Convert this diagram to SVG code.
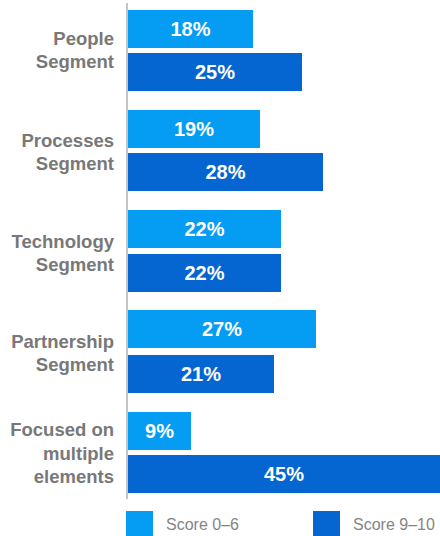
<svg xmlns="http://www.w3.org/2000/svg" width="440" height="536" viewBox="0 0 440 536">
<style>
.lt{fill:#059cf4}
.dk{fill:#0566d2}
.val{font-family:"Liberation Sans",Arial,sans-serif;font-weight:bold;font-size:20px;fill:#fff;text-anchor:middle}
.cat{font-family:"Liberation Sans",Arial,sans-serif;font-weight:bold;font-size:18.5px;fill:#787878;text-anchor:end}
.leg{font-family:"Liberation Sans",Arial,sans-serif;font-size:16px;fill:#858585}
</style>
<rect width="440" height="536" fill="#fff"/>
<g id="axis"><line x1="127" y1="3" x2="127" y2="499" stroke="#c4c4c4" stroke-width="2"/></g>
<g id="people">
<rect class="lt" x="128" y="10" width="125" height="38"/>
<rect class="dk" x="128" y="53" width="174" height="38"/>
<text class="val" x="190.5" y="36">18%</text>
<text class="val" x="215" y="79">25%</text>
<text class="cat" x="114" y="45">People</text>
<text class="cat" x="114" y="68">Segment</text>
</g>
<g id="processes">
<rect class="lt" x="128" y="110" width="132" height="38"/>
<rect class="dk" x="128" y="153" width="195" height="38"/>
<text class="val" x="194" y="136">19%</text>
<text class="val" x="225.5" y="179">28%</text>
<text class="cat" x="114" y="147">Processes</text>
<text class="cat" x="114" y="170">Segment</text>
</g>
<g id="technology">
<rect class="lt" x="128" y="210" width="153" height="38"/>
<rect class="dk" x="128" y="254" width="153" height="38"/>
<text class="val" x="204.5" y="236">22%</text>
<text class="val" x="204.5" y="280">22%</text>
<text class="cat" x="114" y="248">Technology</text>
<text class="cat" x="114" y="271">Segment</text>
</g>
<g id="partnership">
<rect class="lt" x="128" y="310" width="188" height="38"/>
<rect class="dk" x="128" y="355" width="146" height="38"/>
<text class="val" x="222" y="336">27%</text>
<text class="val" x="201" y="381">21%</text>
<text class="cat" x="114" y="348">Partnership</text>
<text class="cat" x="114" y="371">Segment</text>
</g>
<g id="multiple">
<rect class="lt" x="128" y="412" width="63" height="38"/>
<rect class="dk" x="128" y="455" width="312" height="38"/>
<text class="val" x="159.5" y="438">9%</text>
<text class="val" x="284" y="481">45%</text>
<text class="cat" x="114" y="436">Focused on</text>
<text class="cat" x="114" y="459.5">multiple</text>
<text class="cat" x="114" y="483">elements</text>
</g>
<g id="legend">
<rect class="lt" x="126" y="511" width="27" height="25"/>
<text class="leg" x="166" y="530">Score 0–6</text>
<rect class="dk" x="313" y="511" width="27" height="25"/>
<text class="leg" x="353" y="530">Score 9–10</text>
</g>
</svg>
